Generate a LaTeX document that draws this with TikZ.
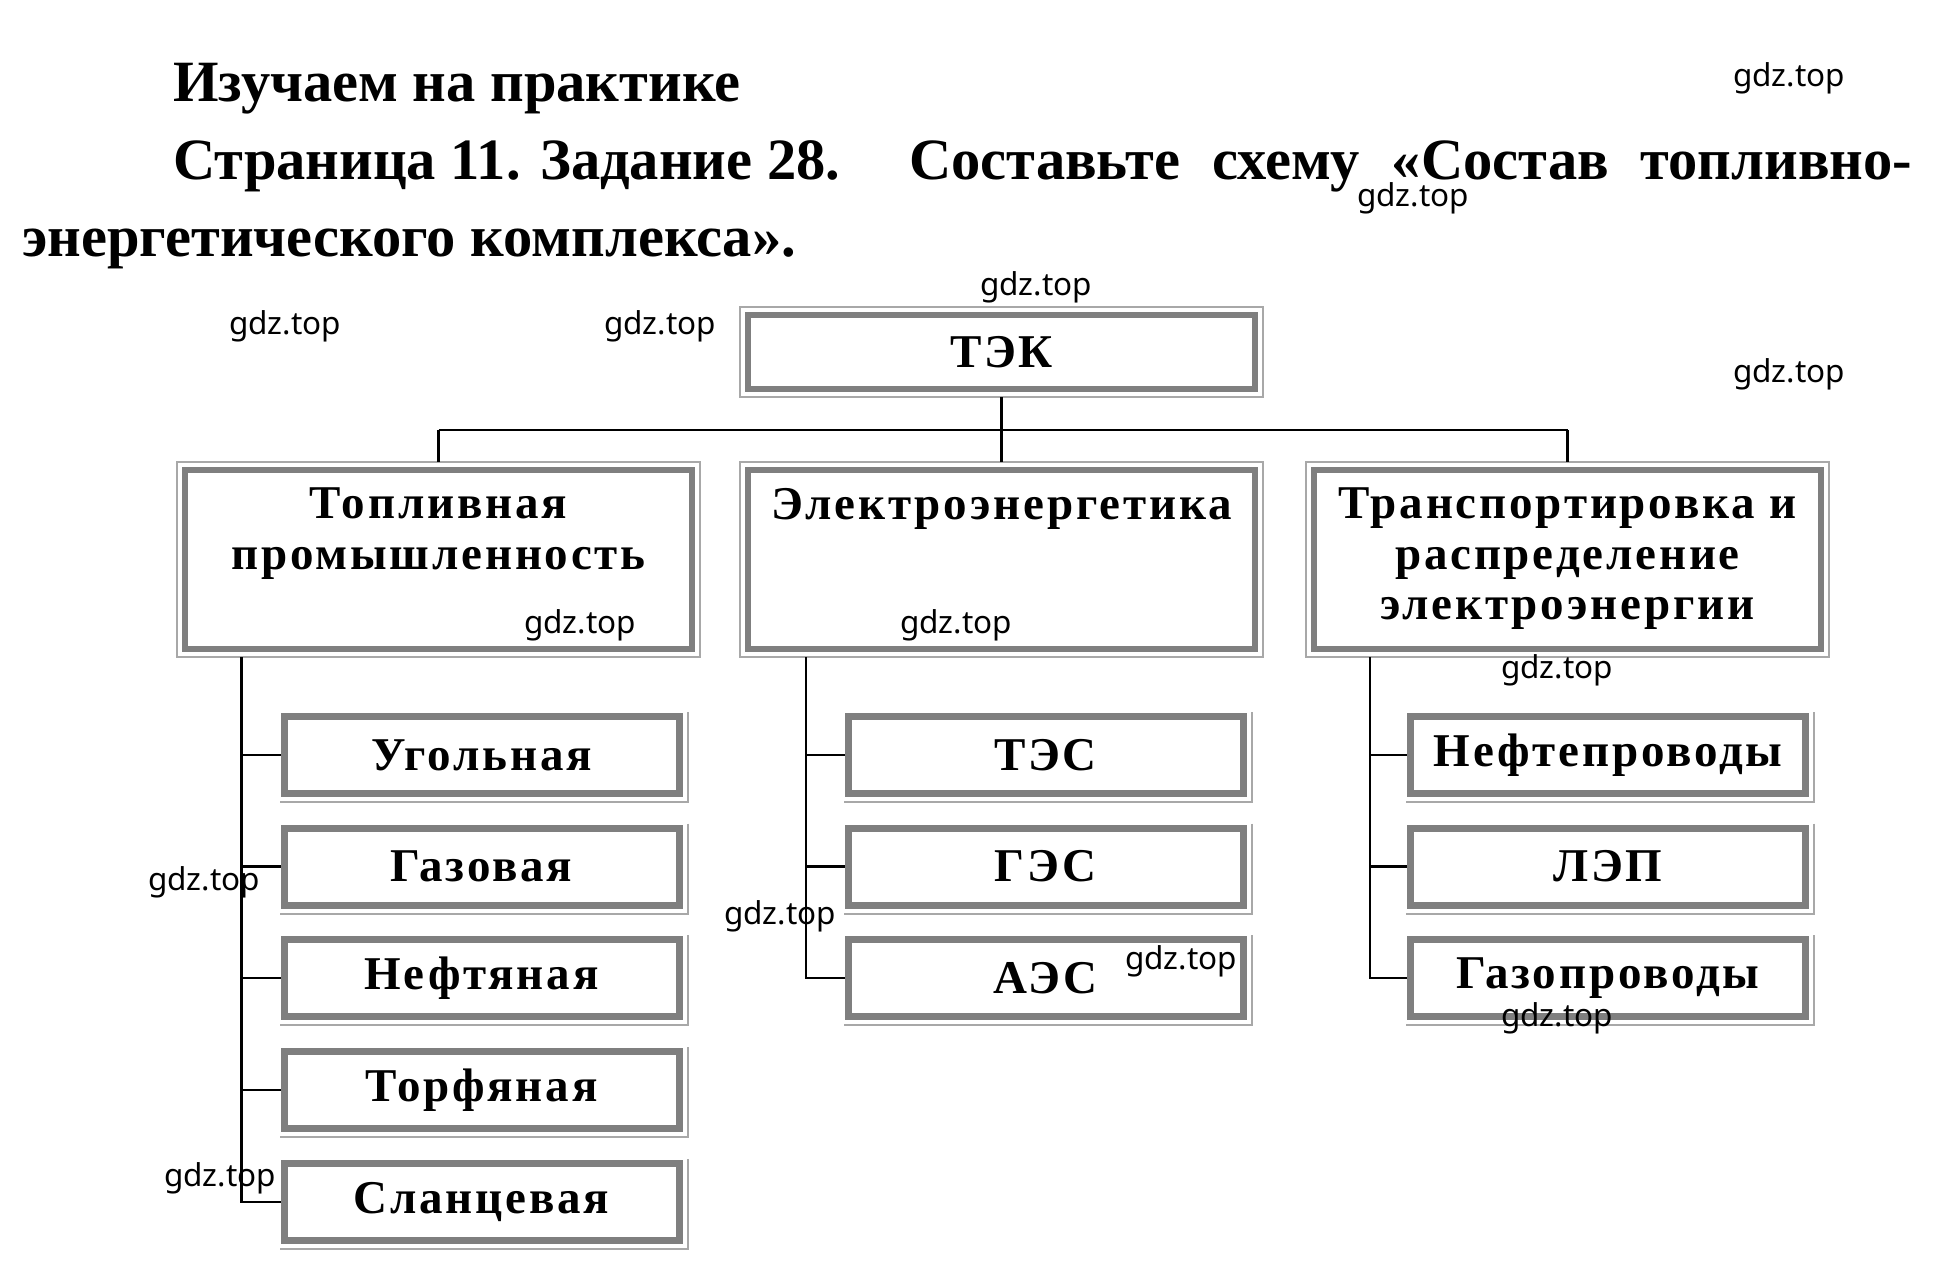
\documentclass[tikz,border=0pt]{standalone}
\usepackage{fontspec}
\setmainfont{Liberation Serif}
\newfontfamily\boxfont{Liberation Serif}[LetterSpace=6]
\newfontfamily\wmfont{Noto Sans}
\usetikzlibrary{calc}
\definecolor{thickline}{HTML}{7F7F7F}
\definecolor{thinline}{HTML}{A8A8A8}
\tikzset{
  conn/.style={line width=2.3pt, draw=black},
  wm/.style={font=\wmfont\fontsize{31.5}{32}\selectfont, anchor=base west, inner sep=0pt},
  hdr/.style={font=\bfseries\fontsize{58.5}{60}\selectfont, anchor=base west, inner sep=0pt},
  mainbox/.style={draw=thinline, line width=2pt, inner sep=0pt, outer sep=0pt, minimum width=523pt},
  innerframe/.style={draw=thickline, line width=6pt},
  leafbox/.style={draw=thickline, line width=7pt, inner sep=0pt, outer sep=3.5pt,
    minimum width=395pt, minimum height=77pt, font=\boxfont\bfseries\fontsize{47}{48}\selectfont},
  shadowline/.style={draw=thinline, line width=2pt},
  boxtext/.style={font=\boxfont\bfseries\fontsize{47}{50.5}\selectfont, align=center, inner sep=0pt, anchor=north}
}
\begin{document}
\begin{tikzpicture}[x=1pt,y=-1pt]
\fill[white] (0,0) rectangle (1934,1268);
\useasboundingbox (0,0) rectangle (1934,1268);

% header
\node[hdr] (h1) at (173,102) {Изучаем на практике};
\node[hdr] (h2a) at (173,180) {Страница 11. Задание 28.};
\node[hdr] (h2b) at (909,180) {\makebox[1003pt][s]{Составьте схему «Состав топливно-}};
\node[hdr] (h3) at (22,256) {энергетического комплекса».};

% top box
\node[mainbox, minimum height=90pt, font=\boxfont\bfseries\fontsize{47}{48}\selectfont] (tek) at (1001.5,352) {ТЭК};

% level 2
\node[mainbox, minimum height=195pt] (l1) at (438.5,559.5) {};
\node[mainbox, minimum height=195pt] (l2) at (1001.5,559.5) {};
\node[mainbox, minimum height=195pt] (l3) at (1567.5,559.5) {};
\foreach \n in {tek,l1,l2,l3}
  \draw[innerframe] ([shift={(8pt,8pt)}]\n.south west) rectangle ([shift={(-8pt,-8pt)}]\n.north east);

\node[boxtext] (t1) at (438.5,488) {Топливная\\промышленность};
\node[boxtext] (t2) at (1001.5,488) {Электроэнергетика};
\node[boxtext] (t3) at (1567.5,488) {Транспортировка и\\распределение\\электроэнергии};

% leaves
\node[leafbox] (a1) at (481.5,755) {Угольная};
\node[leafbox] (a2) at (481.5,866.5) {Газовая};
\node[leafbox] (a3) at (481.5,978) {Нефтяная};
\node[leafbox] (a4) at (481.5,1090) {Торфяная};
\node[leafbox] (a5) at (481.5,1202) {Сланцевая};
\node[leafbox] (b1) at (1045.5,755) {ТЭС};
\node[leafbox] (b2) at (1045.5,866.5) {ГЭС};
\node[leafbox] (b3) at (1045.5,978) {АЭС};
\node[leafbox] (c1) at (1608,755) {Нефтепроводы};
\node[leafbox] (c2) at (1608,866.5) {ЛЭП};
\node[leafbox] (c3) at (1608,978) {Газопроводы};
\foreach \n in {a1,a2,a3,a4,a5,b1,b2,b3,c1,c2,c3}
  \draw[shadowline] ([shift={(5pt,1pt)}]\n.north east) -- ([shift={(5pt,-5pt)}]\n.south east) -- ([shift={(-1pt,-5pt)}]\n.south west);

% connectors
\coordinate (busL) at (438.5,430);
\coordinate (busR) at (1567.5,430);
\draw[conn] (busL) -- (busR);
\draw[conn] (tek.south) -- (tek.south |- busL);
\draw[conn] (busL) -- (l1.north);
\draw[conn] (l2.north |- busL) -- (l2.north);
\draw[conn] (busR) -- (l3.north);

\coordinate (k1) at (241.5,657);
\coordinate (k2) at (806,657);
\coordinate (k3) at (1370,657);
\foreach \n in {a1,a2,a3,a4,a5} \draw[conn] (k1) |- (\n.west);
\foreach \n in {b1,b2,b3} \draw[conn] (k2) |- (\n.west);
\foreach \n in {c1,c2,c3} \draw[conn] (k3) |- (\n.west);

% watermarks
\node[wm] (w1) at (1733,87) {gdz.top};
\node[wm] (w2) at (1357,206) {gdz.top};
\node[wm] (w3) at (980,295) {gdz.top};
\node[wm] (w4) at (229,334) {gdz.top};
\node[wm] (w5) at (604,334) {gdz.top};
\node[wm] (w6) at (1733,382) {gdz.top};
\node[wm] (w7) at (524,633) {gdz.top};
\node[wm] (w8) at (900,633) {gdz.top};
\node[wm] (w9) at (1501,678) {gdz.top};
\node[wm] (w10) at (148,890) {gdz.top};
\node[wm] (w11) at (724,924) {gdz.top};
\node[wm] (w12) at (1125,969) {gdz.top};
\node[wm] (w13) at (1501,1026) {gdz.top};
\node[wm] (w14) at (164,1186) {gdz.top};
\end{tikzpicture}
\end{document}
